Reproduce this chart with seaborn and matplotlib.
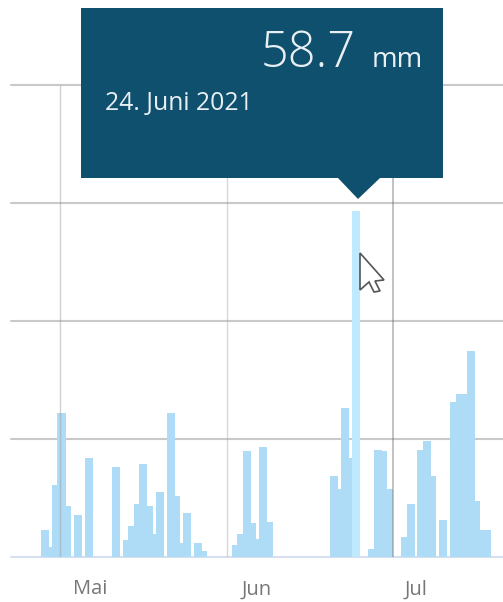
import matplotlib
matplotlib.use("Agg")
import matplotlib.pyplot as plt
from matplotlib.patches import Polygon
import pandas as pd
import seaborn as sns

# days since 1 May 2021, rainfall in mm
days = [-3, -2, -1, 0, 1, 3, 5, 10, 12, 13, 14, 15, 16, 17, 18, 20, 21, 22, 23, 25, 26,
        32, 33, 34, 35, 36, 37, 38,
        50, 51, 52, 53, 54, 57, 58, 59, 60,
        63, 64, 66, 67, 68, 70, 72, 73, 74, 75, 76, 77, 78]
rain = [4.5, 1.7, 12.2, 24.4, 8.6, 7.2, 16.8, 15.2, 2.8, 5.3, 9.0, 15.8, 8.6, 3.9, 11.1, 24.4, 10.3, 2.4, 7.5, 2.4, 1.0,
        2.0, 3.9, 18.0, 5.8, 3.0, 18.6, 6.0,
        13.8, 11.5, 25.3, 16.8, 58.7, 1.3, 18.1, 17.9, 11.5,
        3.4, 9.0, 18.2, 19.6, 13.8, 6.3, 26.3, 27.7, 27.7, 34.9, 9.5, 4.5, 4.5]
highlight_day = 54
month_labels = ["Mai", "Jun", "Jul"]
month_label_days = [5.2, 35.8, 65.0]
month_start_days = [-0.275, 30.34, 60.7]
y_ticks = [0, 20, 40, 60, 80]

W, H = 503, 602
sns.set_theme(style="white")
plt.rcParams["font.family"] = ["Open Sans", "DejaVu Sans"]

fig = plt.figure(figsize=(W / 100, H / 100), dpi=100)
ax = fig.add_axes([11 / W, (H - 557) / H, (W - 11) / W, 472 / H])

df = pd.DataFrame({"day": days, "rain": rain})
df["state"] = ["hover" if d == highlight_day else "normal" for d in days]
sns.barplot(data=df, x="day", y="rain", hue="state", hue_order=["normal", "hover"],
            palette={"normal": "#AEDBF5", "hover": "#BFEAFE"}, saturation=1,
            native_scale=True, dodge=False, width=1.47, errorbar=None,
            legend=False, linewidth=0, ax=ax, zorder=2)

ax.set_xlim((11 - 61.5) / 5.454, (503 - 61.5) / 5.454)
ax.set_ylim(0, 80)
ax.set_xlabel("")
ax.set_ylabel("")
for s in ax.spines.values():
    s.set_visible(False)
ax.set_yticks(y_ticks)
ax.set_yticklabels([])
ax.yaxis.grid(True, color="#C9C9C9", linewidth=1.5, zorder=1)
ax.set_axisbelow(True)
for ln in ax.get_ygridlines():
    ln.set_clip_on(False)
ax.get_ygridlines()[0].set_color("#D6E0F0")

ax.set_xticks(month_start_days)
ax.set_xticklabels([])
ax.tick_params(axis="both", length=0)
ax.set_xticks(month_label_days, labels=month_labels, minor=True)
ax.tick_params(axis="x", which="minor", length=0, pad=16, labelsize=14.5, labelcolor="#777777")
ax.vlines(month_start_days, 0, 80, colors=["#999999", "#AAAAAA", "#777777"],
          linewidth=[1.0, 1.0, 1.4], alpha=0.45, zorder=3)

def px(x, y):
    return (x / W, 1 - y / H)

tooltip = [(81, 8), (443, 8), (443, 178), (380, 178), (358, 199), (338, 178), (81, 178)]
fig.add_artist(Polygon([px(*p) for p in tooltip], closed=True, transform=fig.transFigure,
                       facecolor="#10506F", edgecolor="none", zorder=5))
fig.text(*px(356, 67), "58.7", color="#E8F0F4", fontsize=35, ha="right", va="baseline",
         fontweight="light", zorder=6)
fig.text(*px(423, 67), "mm", color="#E8F0F4", fontsize=20, ha="right", va="baseline", zorder=6)
fig.text(*px(105, 110), "24. Juni 2021", color="#E8F0F4", fontsize=17.8, ha="left", va="baseline", zorder=6)

cursor = [(360, 253), (384, 280), (375, 281), (380, 291), (374, 292), (369, 282), (360, 290)]
fig.add_artist(Polygon([px(*p) for p in cursor], closed=True, transform=fig.transFigure,
                       facecolor="#FFFFFF", edgecolor="#555555", linewidth=1.2, zorder=7))

fig.savefig("out.png", dpi=100)
